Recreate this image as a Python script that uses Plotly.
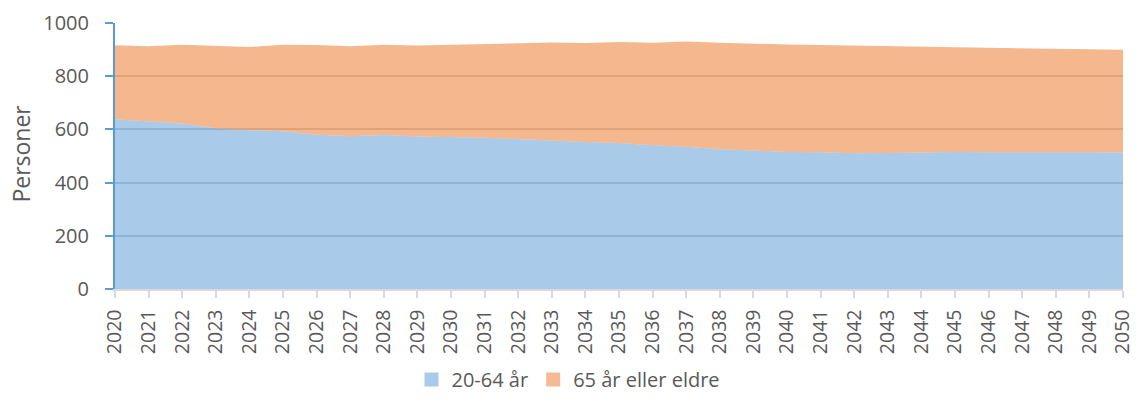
import plotly.graph_objects as go

years = list(range(2020, 2051))
age_20_64 = [638, 630, 622, 604, 597, 593, 580, 574, 579, 573, 571,
             569, 564, 558, 553, 549, 540, 535, 525, 521, 515,
             514, 510, 511, 513, 515, 514, 515, 514, 514, 513]
total = [916, 913, 918, 913, 910, 918, 917, 913, 918, 915, 918,
         921, 922, 927, 925, 929, 926, 930, 926, 922, 919,
         917, 915, 912, 910, 907, 906, 904, 901, 900, 899]
age_65_plus = [t - a for t, a in zip(total, age_20_64)]
series_names = ["20-64 år", "65 år eller eldre"]

blue_fill = "rgba(91,155,213,0.52)"
orange_fill = "rgba(237,125,49,0.55)"
blue_solid = "#AACAE9"
orange_solid = "#F4BA94"
text_col = "#595959"
font_family = "Open Sans"

fig = go.Figure()
fig.add_trace(go.Scatter(x=years, y=age_20_64, stackgroup="one", mode="lines",
                         line=dict(width=0, color=blue_fill), fillcolor=blue_fill,
                         name=series_names[0], showlegend=False, hoverinfo="skip"))
fig.add_trace(go.Scatter(x=years, y=age_65_plus, stackgroup="one", mode="lines",
                         line=dict(width=0, color=orange_fill), fillcolor=orange_fill,
                         name=series_names[1], showlegend=False, hoverinfo="skip"))
# legend entries (square swatches)
fig.add_trace(go.Scatter(x=[None], y=[None], mode="markers", name=series_names[0],
                         marker=dict(symbol="square", size=14, color=blue_solid)))
fig.add_trace(go.Scatter(x=[None], y=[None], mode="markers", name=series_names[1],
                         marker=dict(symbol="square", size=14, color=orange_solid)))

fig.update_layout(
    width=1137, height=403,
    margin=dict(l=115, r=14, t=23, b=114, autoexpand=False),
    paper_bgcolor="white", plot_bgcolor="white",
    font=dict(family=font_family, size=20, color=text_col),
    showlegend=True,
    legend=dict(orientation="h", xref="container", x=0.5, xanchor="center",
                yref="container", y=0.01, yanchor="bottom", traceorder="normal",
                font=dict(size=20, color=text_col), itemwidth=30,
                tracegroupgap=0),
    annotations=[dict(text="Personer", xref="paper", yref="paper",
                      x=-0.093, y=0.51, xanchor="center", yanchor="middle",
                      textangle=-90, showarrow=False,
                      font=dict(size=23, color=text_col, family=font_family))],
)
fig.update_xaxes(
    range=[2020, 2050], tickmode="array", tickvals=years,
    ticktext=[str(y) for y in years], tickangle=-90,
    showgrid=False, zeroline=False, automargin=False,
    showline=True, linecolor="#D9D9D9", linewidth=1.5,
    ticks="outside", ticklen=7, tickcolor="#D9D9D9", tickwidth=1.5,
    tickfont=dict(size=19.5, color=text_col), ticklabelstandoff=4,
    ticklabeloverflow="allow",
)
fig.update_yaxes(
    range=[0, 1000], dtick=200, tick0=0,
    showgrid=True, gridcolor="#D0D0D0", gridwidth=1.5,
    zeroline=False, automargin=False,
    showline=True, linecolor="#5B9BD5", linewidth=2,
    ticks="outside", ticklen=8, tickcolor="#5B9BD5", tickwidth=2,
    tickfont=dict(size=20, color=text_col), ticklabelstandoff=12,
)

fig.write_html("out.html", config={"displayModeBar": False},
               post_script="document.body.style.margin='0px';document.body.style.padding='0px';")
